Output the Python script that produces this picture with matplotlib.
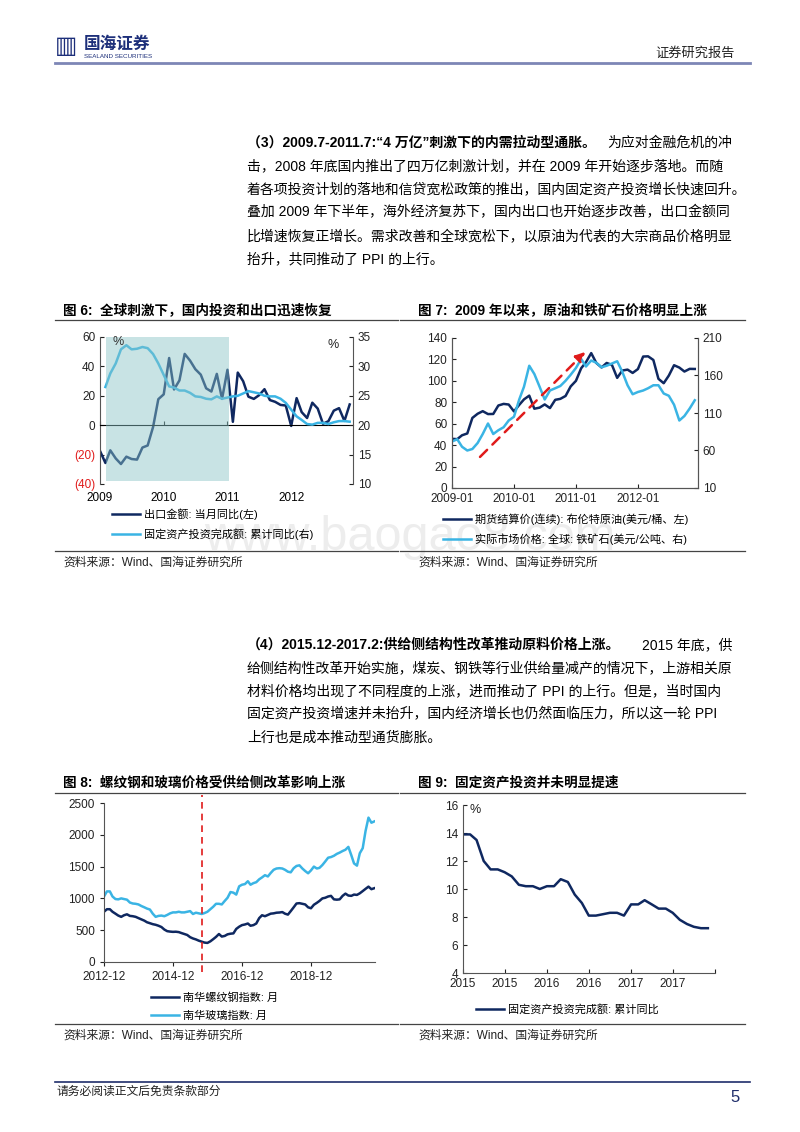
import numpy as np
import pandas as pd
import matplotlib
matplotlib.use('Agg')
import matplotlib.pyplot as plt
import matplotlib.dates as mdates
import matplotlib.ticker as mticker
from matplotlib.lines import Line2D

plt.rcParams['font.family'] = ['Liberation Sans', 'Noto Sans CJK SC', 'DejaVu Sans']
plt.rcParams['axes.unicode_minus'] = False

# ---------------- data ----------------
# fig 6: export yoy (left) and FAI cumulative yoy (right), 2009-01 .. 2012-12
export_yoy = [-17.5, -25.7, -17.1, -22.6, -26.4, -21.4, -23.0, -23.4, -15.2, -13.8, -1.2, 17.7,
              21.0, 45.7, 24.3, 30.5, 48.5, 43.9, 38.1, 34.4, 25.1, 22.9, 34.9, 17.9,
              37.7, 2.3, 35.8, 29.9, 19.4, 17.9, 20.4, 24.5, 17.1, 15.9, 13.8, 13.4,
              -0.5, 18.4, 8.9, 4.9, 15.3, 11.3, 1.0, 2.7, 9.9, 11.6, 2.9, 14.1]
fai_yoy = [26.5, 28.8, 30.5, 32.9, 33.6, 32.9, 33.0, 33.3, 33.1, 32.1, 30.5,
           26.6, 26.4, 25.9, 25.9, 25.5, 24.9, 24.8, 24.5, 24.4, 24.9, 24.5,
           24.9, 25.0, 25.4, 25.8, 25.6, 25.4, 25.0, 24.9, 24.9, 24.5, 23.8,
           21.5, 20.9, 20.2, 20.1, 20.4, 20.4, 20.2, 20.5, 20.7, 20.7, 20.6]
shade_span = ['2009-02-05', '2011-01-12']

# fig 7: brent (left) and iron ore (right), 2009-01 .. 2012-12
brent = [45.9, 45.6, 49.2, 50.9, 65.4, 69.3, 71.7, 69.0, 69.1, 77.0, 78.5, 77.9,
         71.5, 77.6, 82.7, 86.2, 74.0, 75.0, 78.0, 74.6, 82.3, 83.2, 85.9, 94.8,
         100.0, 111.8, 117.4, 125.9, 116.7, 112.5, 116.7, 114.9, 102.8, 109.6, 110.5, 107.4,
         111.0, 122.7, 122.9, 119.5, 101.9, 97.8, 104.9, 114.6, 112.4, 108.7, 111.2, 111.1]
iron_ore = [72, 75, 65, 60, 62, 70, 82, 96, 82, 87, 91, 100,
            105, 128, 145, 173, 162, 145, 128, 140, 143, 146, 153, 161,
            170, 182, 172, 180, 177, 171, 173, 176, 179, 165, 147, 135,
            138, 140, 143, 147, 147, 136, 133, 121, 100, 106, 116, 127]
arrow_from = ('2009-06-15', 29)
arrow_to = ('2011-02-25', 127)

# fig 8: Nanhua rebar / glass index, monthly 2012-12 .. 2020-10
rebar = [790, 830, 830, 790, 760, 730, 710, 735, 750, 725,
         720, 710, 690, 670, 650, 625, 610, 595, 585, 570,
         550, 510, 485, 478, 474, 476, 470, 455, 440, 425,
         390, 370, 355, 335, 320, 305, 300, 325, 360, 395,
         440, 400, 410, 435, 445, 450, 520, 555, 580, 590,
         605, 570, 580, 605, 690, 735, 720, 740, 760, 765,
         775, 778, 785, 760, 745, 800, 860, 920, 925, 915,
         905, 860, 845, 900, 930, 960, 1000, 1010, 1030, 1040,
         985, 980, 985, 1040, 1075, 1045, 1040, 1060, 1055, 1080,
         1115, 1150, 1185, 1145, 1160]
glass = [1030, 1110, 1110, 1030, 990, 985, 1000, 990, 980, 935,
         920, 915, 905, 880, 860, 840, 825, 760, 710, 725,
         730, 720, 740, 765, 780, 780, 790, 780, 780, 790,
         800, 755, 775, 765, 755, 770, 790, 830, 870, 915,
         915, 905, 960, 1010, 1100, 1090, 1060, 1190, 1215, 1225,
         1270, 1215, 1240, 1255, 1300, 1330, 1365, 1345, 1400, 1450,
         1470, 1475, 1470, 1450, 1420, 1410, 1475, 1510, 1520, 1470,
         1430, 1395, 1440, 1500, 1470, 1480, 1525, 1580, 1640, 1650,
         1670, 1700, 1720, 1745, 1765, 1810, 1680, 1550, 1515, 1710,
         1790, 2060, 2270, 2190, 2210]
reform_date = '2015-10-01'

# fig 9: FAI cumulative yoy, 2015-01 .. 2017-12
fai_yoy9 = [13.9, 13.9, 13.5, 12.0, 11.4, 11.4, 11.2, 10.9, 10.3, 10.2, 10.2, 10.0,
            10.2, 10.2, 10.7, 10.5, 9.6, 9.0, 8.1, 8.1, 8.2, 8.3, 8.3, 8.1,
            8.9, 8.9, 9.2, 8.9, 8.6, 8.6, 8.3, 7.8, 7.5, 7.3, 7.2, 7.2]

dates6 = pd.date_range('2009-01-01', periods=len(export_yoy), freq='MS')
fai_dates6 = dates6[dates6.month != 1]
dates7 = pd.date_range('2009-01-01', periods=len(brent), freq='MS')
dates8 = pd.date_range('2012-12-01', periods=len(rebar), freq='MS')
dates9 = pd.date_range('2015-01-01', periods=len(fai_yoy9), freq='MS')

para3 = ['击，2008 年底国内推出了四万亿刺激计划，并在 2009 年开始逐步落地。而随',
         '着各项投资计划的落地和信贷宽松政策的推出，国内固定资产投资增长快速回升。',
         '叠加 2009 年下半年，海外经济复苏下，国内出口也开始逐步改善，出口金额同',
         '比增速恢复正增长。需求改善和全球宽松下，以原油为代表的大宗商品价格明显',
         '抬升，共同推动了 PPI 的上行。']
para4 = ['给侧结构性改革开始实施，煤炭、钢铁等行业供给量减产的情况下，上游相关原',
         '材料价格均出现了不同程度的上涨，进而推动了 PPI 的上行。但是，当时国内',
         '固定资产投资增速并未抬升，国内经济增长也仍然面临压力，所以这一轮 PPI',
         '上行也是成本推动型通货膨胀。']

NAVY = '#0f2860'
LIGHT = '#3ab4e4'
RED = '#e01b1b'
SRC = '资料来源：Wind、国海证券研究所'

W, H = 800, 1132
fig = plt.figure(figsize=(8, 11.32), dpi=100)


def fx(x):
    return x / W


def fy(y):
    return 1 - y / H


def add_ax(l, t, r, b):
    return fig.add_axes([fx(l), fy(b), (r - l) / W, (b - t) / H])


def hline(x0, x1, y, color='#444444', lw=0.9):
    fig.add_artist(Line2D([fx(x0), fx(x1)], [fy(y), fy(y)], color=color, lw=lw))


def style_ticks(ax, direction='in', size=8.5):
    ax.tick_params(direction=direction, length=3, width=0.8, labelsize=size, colors='#222222')
    for s in ax.spines.values():
        s.set_color('#555555')
        s.set_linewidth(0.8)


# ---------------- header / footer ----------------
fig.text(fx(55), fy(46), '▥', fontsize=17, color='#1d2f7a', va='center', family='DejaVu Sans')
fig.text(fx(84), fy(44), '国海证券', fontsize=12, fontweight='bold', color='#1d2f7a', va='center')
fig.text(fx(84), fy(56), 'SEALAND SECURITIES', fontsize=4.5, color='#1d2f7a', va='center')
fig.text(fx(735), fy(53), '证券研究报告', fontsize=9.5, ha='right', va='center', color='#222222')
hline(55, 750, 63, color='#7d86b6', lw=2)
hline(55, 750, 1082, color='#1f2d6b', lw=1.2)
fig.text(fx(57), fy(1092), '请务必阅读正文后免责条款部分', fontsize=8.5, va='center', color='#222222')
fig.text(fx(740), fy(1097), '5', fontsize=12, ha='right', va='center', color='#1f2d6b')
fig.text(fx(410), fy(538), 'www.baogao8.com', fontsize=35, ha='center', va='center',
         color='#ededed', zorder=-1)

# ---------------- body text ----------------
x_left, x_right, lh = 247, 732, 23.2
y0 = 143
fig.text(fx(x_left), fy(y0), '（3）2009.7-2011.7:“4 万亿”刺激下的内需拉动型通胀。',
         fontsize=10, fontweight='bold', va='center')
fig.text(fx(x_right), fy(y0), '为应对金融危机的冲', fontsize=10, ha='right', va='center')
for i, line in enumerate(para3):
    fig.text(fx(x_left), fy(y0 + lh * (i + 1)), line, fontsize=10, va='center')

y0 = 645
fig.text(fx(x_left), fy(y0), '（4）2015.12-2017.2:供给侧结构性改革推动原料价格上涨。',
         fontsize=10, fontweight='bold', va='center')
fig.text(fx(x_right), fy(y0), '2015 年底，供', fontsize=10, ha='right', va='center')
for i, line in enumerate(para4):
    fig.text(fx(x_left), fy(y0 + lh * (i + 1)), line, fontsize=10, va='center')


# ---------------- chart frames ----------------
def frame(x0, x1, xt, title, yt, yl, ys_line, ys):
    fig.text(fx(xt), fy(yt), title, fontsize=9.8, fontweight='bold', va='center')
    hline(x0, x1, yl)
    hline(x0, x1, ys_line)
    fig.text(fx(xt), fy(ys), SRC, fontsize=8.5, va='center', color='#222222')


frame(55, 398, 63, '图 6:  全球刺激下，国内投资和出口迅速恢复', 310, 320, 551, 563)
frame(400, 745, 418, '图 7:  2009 年以来，原油和铁矿石价格明显上涨', 310, 320, 551, 563)
frame(55, 398, 63, '图 8:  螺纹钢和玻璃价格受供给侧改革影响上涨', 783, 793, 1024, 1036)
frame(400, 745, 418, '图 9:  固定资产投资并未明显提速', 783, 793, 1024, 1036)

legend_kw = dict(loc='upper left', frameon=False, fontsize=8, handlelength=2.5,
                 handletextpad=0.4, labelspacing=0.75, borderpad=0, borderaxespad=0)

# ---------------- fig 6 ----------------
ax6 = add_ax(100, 337, 353, 484)
ax6b = ax6.twinx()
l61, = ax6.plot(dates6, export_yoy, color=NAVY, lw=1.8)
l62, = ax6b.plot(fai_dates6, fai_yoy, color=LIGHT, lw=1.8)
ax6b.axvspan(pd.Timestamp(shade_span[0]), pd.Timestamp(shade_span[1]), ymin=0.02, ymax=1.0,
             color='#8ac4c7', alpha=0.47, lw=0, zorder=5)
ax6.set_xlim(pd.Timestamp('2009-01-01'), pd.Timestamp('2012-12-20'))
ax6.set_ylim(-40, 60)
ax6b.set_ylim(10, 35)
yt6 = list(range(-40, 61, 20))
ax6.set_yticks(yt6, ['(%d)' % -v if v < 0 else '%d' % v for v in yt6])
ax6b.set_yticks(range(10, 36, 5))
for s in ['top', 'right']:
    ax6.spines[s].set_visible(False)
for s in ['top', 'bottom', 'left']:
    ax6b.spines[s].set_visible(False)
ax6.spines['bottom'].set_position(('data', 0))
style_ticks(ax6)
style_ticks(ax6b)
ax6.spines['bottom'].set_color('black')
for lbl, v in zip(ax6.get_yticklabels(), yt6):
    if v < 0:
        lbl.set_color(RED)
ax6.xaxis.set_major_locator(mdates.YearLocator())
ax6.tick_params(axis='x', labelbottom=False, length=3, direction='in')
sec6 = ax6.secondary_xaxis(0)
sec6.xaxis.set_major_locator(mdates.YearLocator())
sec6.xaxis.set_major_formatter(mdates.DateFormatter('%Y'))
sec6.spines['bottom'].set_visible(False)
sec6.tick_params(length=0, pad=6, labelsize=8.5)
fig.text(fx(113), fy(342), '%', fontsize=9, va='center', color='#333333', zorder=10)
fig.text(fx(328), fy(345), '%', fontsize=9, va='center', color='#222222')
fig.legend([l61, l62], ['出口金额: 当月同比(左)', '固定资产投资完成额: 累计同比(右)'],
           bbox_to_anchor=(fx(112), fy(508)), **legend_kw)

# ---------------- fig 7 ----------------
ax7 = add_ax(452, 338, 698, 488)
ax7b = ax7.twinx()
l71, = ax7.plot(dates7, brent, color=NAVY, lw=1.8)
l72, = ax7b.plot(dates7, iron_ore, color=LIGHT, lw=1.8)
ax7.set_xlim(pd.Timestamp('2009-01-01'), pd.Timestamp('2012-12-20'))
ax7.set_ylim(0, 140)
ax7.set_yticks(range(0, 141, 20))
ax7b.set_ylim(10, 210)
ax7b.set_yticks(range(10, 211, 50))
ax7.xaxis.set_major_locator(mdates.MonthLocator(bymonth=1))
ax7.xaxis.set_major_formatter(mdates.DateFormatter('%Y-%m'))
ax7.spines['top'].set_visible(False)
ax7b.spines['top'].set_visible(False)
style_ticks(ax7)
style_ticks(ax7b)
ax7b.annotate('', xy=(mdates.date2num(pd.Timestamp(arrow_to[0])), arrow_to[1]),
              xytext=(mdates.date2num(pd.Timestamp(arrow_from[0])), arrow_from[1]),
              xycoords=ax7.transData, textcoords=ax7.transData,
              arrowprops=dict(arrowstyle='-|>', color=RED, lw=1.8, linestyle=(0, (4, 3)),
                              mutation_scale=14, shrinkA=0, shrinkB=0))
fig.legend([l71, l72], ['期货结算价(连续): 布伦特原油(美元/桶、左)', '实际市场价格: 全球: 铁矿石(美元/公吨、右)'],
           bbox_to_anchor=(fx(443), fy(513)), **legend_kw)

# ---------------- fig 8 ----------------
ax8 = add_ax(104, 803, 375, 962)
l81, = ax8.plot(dates8, rebar, color=NAVY, lw=1.8)
l82, = ax8.plot(dates8, glass, color=LIGHT, lw=1.8)
ax8.axvline(pd.Timestamp(reform_date), ymin=-0.06, ymax=1.05, clip_on=False, color=RED,
            lw=1.2, linestyle=(0, (4, 3)))
ax8.set_xlim(dates8[0], dates8[-1] + pd.Timedelta(days=8))
ax8.set_ylim(0, 2500)
ax8.set_yticks(range(0, 2501, 500))
ax8.xaxis.set_major_locator(mdates.YearLocator(base=2, month=12))
ax8.xaxis.set_major_formatter(mdates.DateFormatter('%Y-%m'))
for s in ['top', 'right']:
    ax8.spines[s].set_visible(False)
style_ticks(ax8, direction='out')
fig.legend([l81, l82], ['南华螺纹钢指数: 月', '南华玻璃指数: 月'],
           bbox_to_anchor=(fx(151), fy(992)), **legend_kw)

# ---------------- fig 9 ----------------
ax9 = add_ax(463, 805, 715, 973)
l91, = ax9.plot(dates9, fai_yoy9, color=NAVY, lw=1.8)
x9_end = pd.Timestamp('2018-01-01')
ax9.set_xlim(dates9[0], x9_end)
ax9.set_ylim(4, 16)
ax9.set_yticks(range(4, 17, 2))
ax9.xaxis.set_major_locator(mdates.MonthLocator(bymonth=[1, 7]))
ax9.xaxis.set_major_formatter(mticker.FuncFormatter(
    lambda v, p: '' if v >= mdates.date2num(x9_end) - 1 else mdates.num2date(v).strftime('%Y')))
for s in ['top', 'right']:
    ax9.spines[s].set_visible(False)
style_ticks(ax9)
fig.text(fx(470), fy(810), '%', fontsize=9, va='center', color='#222222')
fig.legend([l91], ['固定资产投资完成额: 累计同比'],
           bbox_to_anchor=(fx(476), fy(1004)), **legend_kw)

fig.savefig('out.png', dpi=100)
